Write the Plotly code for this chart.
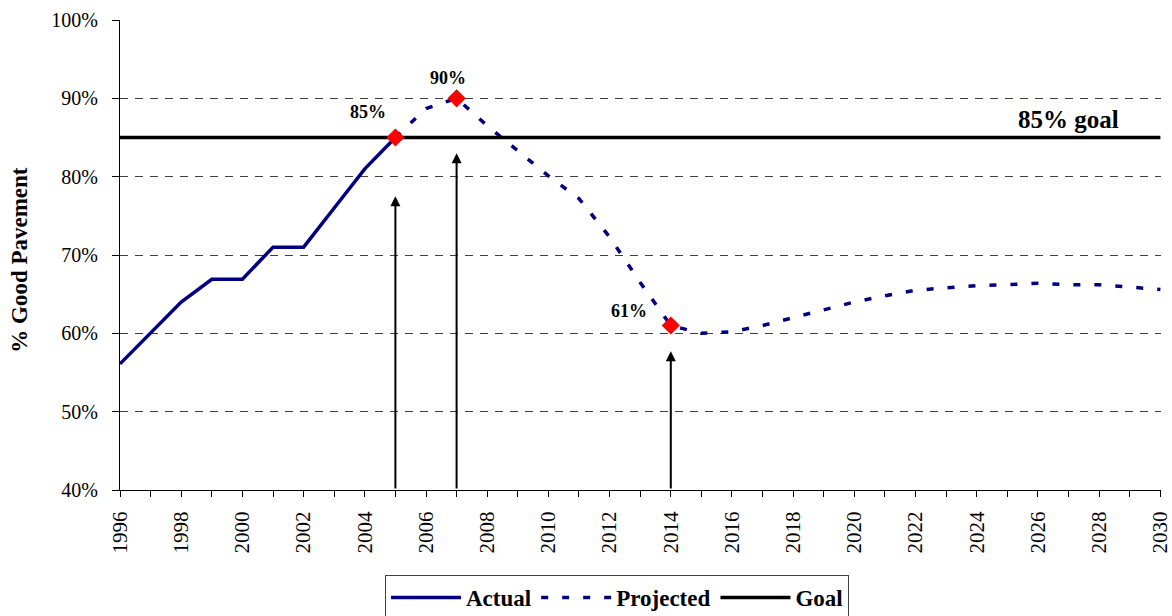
import plotly.graph_objects as go

# Share of pavement in good condition (%)
actual_years = [1996, 1997, 1998, 1999, 2000, 2001, 2002, 2003, 2004, 2005]
actual_pct = [56.1, 60.1, 64.0, 66.9, 66.9, 71.0, 71.0, 76.0, 81.0, 85.0]

projected_years = list(range(2005, 2031))
projected_pct = [85.0, 88.7, 90.0, 86.5, 83.3, 80.1, 77.2, 72.3, 66.5, 61.0,
                 60.0, 60.2, 61.0, 62.0, 62.9, 64.0, 64.8, 65.5, 65.8, 66.1,
                 66.2, 66.4, 66.2, 66.2, 65.9, 65.6]

goal_years = [1996, 2030]
goal_pct = [85, 85]

# Highlighted milestones and their callout arrows
milestone_years = [2005, 2007, 2014]
milestone_pct = [85, 90, 61]
milestone_labels = ["85%", "90%", "61%"]
arrow_tips = [77.5, 83.0, 57.7]

x_ticks = list(range(1996, 2031))
x_ticktext = [str(y) if y % 2 == 0 else "" for y in x_ticks]
y_ticks = [40, 50, 60, 70, 80, 90, 100]
y_ticktext = [f"{v}%" for v in y_ticks]

FONT = "Liberation Serif"
NAVY = "#000080"

fig = go.Figure()

fig.add_trace(go.Scatter(
    x=actual_years, y=actual_pct, name="<b>Actual</b>", mode="lines",
    line=dict(color=NAVY, width=3.5),
))
fig.add_trace(go.Scatter(
    x=projected_years, y=projected_pct, name="<b>Projected</b>", mode="lines",
    line=dict(color=NAVY, width=3.5, dash="7px,14px"),
))
fig.add_trace(go.Scatter(
    x=goal_years, y=goal_pct, name="<b>Goal</b>", mode="lines",
    line=dict(color="black", width=3.5),
))
fig.add_trace(go.Scatter(
    x=milestone_years, y=milestone_pct, mode="markers", showlegend=False,
    marker=dict(symbol="diamond", color="#ff0000", size=14),
))

# Arrows rising from the axis toward each milestone
for yr, tip in zip(milestone_years, arrow_tips):
    fig.add_annotation(
        x=yr, y=tip, ax=yr, ay=40, xref="x", yref="y", axref="x", ayref="y",
        text="", showarrow=True, arrowhead=2, arrowsize=1.0, arrowwidth=2,
        arrowcolor="black",
    )

# Value labels near the milestones
label_shifts = [(-27, 26), (-9, 20), (-42, 15)]
for yr, val, lab, (dx, dy) in zip(milestone_years, milestone_pct,
                                  milestone_labels, label_shifts):
    fig.add_annotation(
        x=yr, y=val, text=f"<b>{lab}</b>", showarrow=False,
        xshift=dx, yshift=dy, font=dict(family=FONT, size=18, color="black"),
    )

fig.add_annotation(
    x=2028.7, y=85, text="<b>85% goal</b>", showarrow=False,
    xanchor="right", yanchor="bottom", yshift=3,
    font=dict(family=FONT, size=25, color="black"),
)

fig.add_annotation(
    xref="paper", yref="paper", x=-0.096, y=0.49, text="<b>% Good Pavement</b>",
    xanchor="center", yanchor="middle",
    textangle=-90, showarrow=False, font=dict(family=FONT, size=23, color="black"),
)

fig.update_layout(
    width=1172, height=616,
    margin=dict(l=120, r=11, t=20, b=126),
    paper_bgcolor="white", plot_bgcolor="white",
    font=dict(family=FONT, size=20, color="black"),
    showlegend=True,
    legend=dict(
        orientation="h", xref="container", yref="container",
        x=0.3285, xanchor="left", y=0.0666, yanchor="top",
        bordercolor="#404040", borderwidth=1, bgcolor="white",
        font=dict(family=FONT, size=23, color="black"),
        itemwidth=70,
    ),
)

fig.update_xaxes(
    range=[1996, 2030.02], tickmode="array", tickvals=x_ticks, ticktext=x_ticktext,
    tickangle=-90, ticks="outside", ticklen=6, tickcolor="black",
    ticklabelstandoff=6, ticklabeloverflow="allow",
    showline=True, linecolor="black", linewidth=1,
    showgrid=False, zeroline=False, automargin=False,
    tickfont=dict(family=FONT, size=21, color="black"),
)
fig.update_yaxes(
    range=[40, 100], tickmode="array", tickvals=y_ticks, ticktext=y_ticktext,
    ticks="outside", ticklen=7, tickcolor="black", ticklabelstandoff=10,
    showline=True, linecolor="black", linewidth=1,
    showgrid=True, gridcolor="#404040", gridwidth=1, griddash="8px,7px",
    zeroline=False, automargin=False,
    tickfont=dict(family=FONT, size=20, color="black"),
)

fig.write_html("out.html")
